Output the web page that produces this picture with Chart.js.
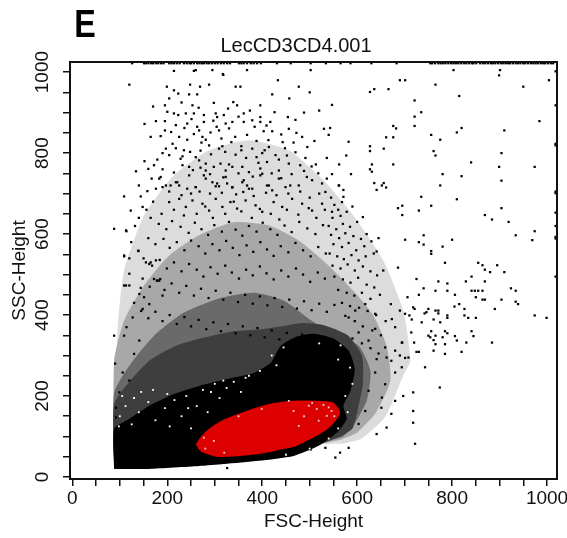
<!DOCTYPE html>
<html><head><meta charset="utf-8">
<script src="https://cdn.jsdelivr.net/npm/chart.js@4.4.1/dist/chart.umd.min.js"></script>
<style>html,body{margin:0;padding:0;background:#fff;}#wrap{width:567px;height:538px;}</style>
</head><body><div id="wrap"><canvas id="c" width="567" height="538"></canvas></div>
<script>
// ---------- text ----------
const panelLetter = 'E';
const plotTitle = 'LecCD3CD4.001';
const xTitle = 'FSC-Height';
const yTitle = 'SSC-Height';
const xTickLabels = [0, 200, 400, 600, 800, 1000];
const yTickLabels = [0, 200, 400, 600, 800, 1000];

// ---------- density regions (FSC, SSC) ----------
const lightRegion = [[88,30],[88,30],[95,361],[109,510],[151,646],[214,745],[288,807],[372,832],[456,807],[529,733],[592,646],[655,535],[697,411],[712,287],[697,250],[660,150],[610,95],[570,82],[570,82],[519,80],[466,55],[393,42],[88,30]];
const moderateRegion = [[88,30],[88,30],[88,287],[109,386],[151,473],[204,547],[267,597],[340,629],[414,621],[477,584],[540,522],[592,460],[634,399],[662,324],[670,238],[640,160],[600,110],[565,92],[565,92],[519,80],[466,55],[393,42],[88,30]];
const heavyRegion = [[88,30],[88,30],[88,208],[120,275],[172,349],[235,406],[309,441],[382,455],[445,436],[498,391],[540,361],[603,324],[628,262],[620,188],[592,126],[571,100],[571,100],[519,80],[466,55],[393,42],[88,30]];
const denseRegion = [[88,30],[88,30],[88,180],[120,235],[165,290],[220,325],[280,345],[340,360],[400,365],[440,372],[480,380],[530,375],[580,350],[610,300],[612,230],[600,160],[590,120],[565,100],[565,100],[519,80],[466,55],[393,42],[88,30]];
const coreRegion = [[88,20],[88,20],[88,119],[120,144],[162,176],[214,205],[267,225],[330,243],[382,257],[418,282],[439,324],[473,347],[508,354],[550,342],[582,312],[595,267],[586,213],[571,176],[578,144],[557,109],[519,77],[466,52],[393,40],[319,32],[267,27],[162,20],[88,20]];

// ---------- gate (lymphocyte ellipse) ----------
const gateOutline = [[258,81],[267,64],[281,55],[302,48],[330,48],[365,51],[400,56],[442,66],[470,73],[491,85],[519,102],[540,118],[557,139],[566,157],[561,173],[550,186],[526,190],[491,191],[456,190],[421,184],[386,173],[351,159],[316,143],[288,122],[270,102],[258,81]];
const gateSpeckles = [[498,176],[515,168],[529,178],[546,163],[536,151],[456,188],[466,163],[399,168],[298,89],[277,97],[519,139],[477,126],[505,183],[540,172],[552,150],[488,150],[350,150],[280,70],[320,60]];

// ---------- light gaps inside the dense band ----------
const coreVoids = [[100,150],[112,175],[125,130],[140,160],[160,185],[175,140],[195,170],[205,125],[215,190],[230,150],[240,200],[250,120],[262,175],[275,215],[285,160],[300,230],[310,195],[325,220],[340,235],[355,210],[365,245],[130,195],[145,210],[170,215],[105,200],[200,205],[420,300],[445,320],[520,330],[560,290],[575,200],[590,230],[560,120],[540,95],[500,70],[450,55],[98,125],[244,170],[292,210],[318,238],[372,250],[395,262],[430,276],[565,325],[585,270],[580,160]];

// ---------- individual events ----------
const SSC_SATURATED = 1022;
const FSC_SATURATED = 1018;
const topEdgeFSC = [126,151,155,160,166,170,176,181,187,192,204,209,214,220,226,235,241,247,250,256,263,268,273,277,283,288,294,300,306,313,319,326,332,351,356,361,368,376,382,389,397,431,460,502,534,565,586,630,683,754,758,764,771,776,781,786,792,798,803,808,813,819,825,830,836,842,845,851,859,865,870,876,882,886,891,897,903,908,913,918,922,928,934,939,944,950,954,960,966,971,976,981,987,992,996,1002,1008,1013];
const rightEdgeSSC = [1002,918,819,823,701,705,653,620,589,593,495];

const upperRightEvents = [[899,992],[950,964],[1004,980],[690,980],[701,980],[627,951],[636,958],[666,958],[765,969],[815,941],[721,930],[735,901],[721,890],[721,867],[547,919],[543,862],[676,867],[682,861],[661,839],[676,839],[756,845],[775,833],[810,851],[820,862],[910,856],[984,879],[582,828],[627,817],[627,805],[656,811],[761,805],[765,794],[840,777],[904,800],[577,794],[631,772],[627,760],[631,754],[676,772],[562,772],[899,766],[974,766],[904,732],[780,748],[820,743],[775,720],[547,748],[587,748],[636,726],[652,720],[656,726],[661,715],[641,709],[562,720],[571,709],[571,692],[735,692],[810,686],[904,664],[869,647],[884,636],[919,630],[974,607],[934,597],[969,585],[686,664],[695,670],[695,647],[730,658],[756,670],[740,597],[730,580],[740,574],[701,586],[780,569],[800,586],[756,558],[756,551],[641,557],[785,529],[686,517],[855,529],[864,523],[869,512],[880,506],[910,506],[895,523],[841,495],[829,483],[841,460],[848,460],[855,460],[864,460],[869,483],[725,489],[771,483],[765,460],[790,460],[790,478],[740,466],[730,450],[706,444],[671,427],[806,450],[850,444],[864,438],[869,438],[904,438],[924,466],[934,460],[934,433],[939,427],[890,415],[974,399],[999,393],[826,415],[815,427],[805,421],[850,393],[834,393],[826,399],[750,415],[742,404],[765,411],[771,411],[771,404],[790,399],[790,393],[761,389],[775,382],[710,399],[715,389],[721,415],[690,411],[736,382],[680,370],[756,360],[750,349],[765,349],[761,338],[765,328],[785,360],[790,355],[780,345],[785,328],[806,348],[810,337],[841,360],[845,348],[884,332],[830,332],[820,309],[785,304],[725,309],[730,309],[695,332],[720,332],[690,300],[701,294]];

const midRightEvents = [[545,690],[552,672],[560,660],[548,640],[565,645],[578,655],[590,668],[540,620],[556,612],[570,625],[585,618],[600,630],[612,642],[545,598],[562,590],[575,602],[592,595],[608,588],[620,600],[550,575],[568,568],[582,578],[598,560],[615,570],[630,582],[645,590],[542,552],[558,545],[572,538],[588,548],[603,535],[618,545],[635,552],[548,522],[565,515],[580,525],[595,510],[612,520],[628,508],[642,498],[655,510],[552,495],[570,488],[586,480],[602,492],[620,475],[636,468],[560,462],[578,455],[594,448],[610,455],[628,440],[648,450],[568,430],[585,422],[604,418],[622,410],[640,400],[660,385],[575,398],[595,385],[612,372],[632,362],[650,350],[590,342],[610,330],[628,318],[645,305],[662,295],[722,82],[718,134],[662,122],[641,106],[603,131],[617,163],[651,171],[672,156],[680,188],[697,200],[582,72],[564,60],[554,48],[533,72],[502,68],[483,82],[694,332],[714,357],[754,345],[761,312],[743,271],[774,221],[718,209],[718,163],[672,287],[659,229],[680,258],[638,258],[624,213],[652,196],[641,291],[659,320],[680,312],[694,271],[708,295],[701,403],[718,419],[746,407],[673,390],[638,403],[617,427],[596,411],[582,394],[638,366],[624,337],[603,357],[326,22]];

const upperLeftEvents = [[214,1003],[256,1003],[295,1005],[318,993],[433,980],[477,964],[120,969],[199,964],[248,969],[269,964],[288,969],[344,964],[354,964],[214,955],[223,947],[246,945],[263,945],[204,935],[421,945],[457,935],[195,918],[253,918],[298,924],[339,926],[347,918],[396,918],[214,898],[223,894],[200,902],[239,898],[256,898],[277,894],[302,898],[305,889],[319,894],[328,910],[361,898],[396,889],[379,881],[454,889],[176,879],[195,879],[218,869],[242,873],[263,865],[267,856],[277,877],[304,865],[309,856],[323,873],[337,877],[361,877],[384,865],[396,877],[403,854],[417,877],[421,854],[456,860],[165,840],[195,856],[225,840],[242,833],[256,847],[274,840],[281,833],[288,819],[309,811],[316,817],[335,827],[356,817],[356,807],[379,811],[400,800],[405,807],[414,815],[428,795],[435,784],[443,827],[197,811],[211,823],[235,807],[179,784],[204,795],[228,786],[246,766],[260,790],[267,782],[281,774],[281,757],[277,745],[298,766],[312,774],[323,757],[337,766],[358,766],[372,753],[396,762],[400,749],[435,757],[456,774],[491,788],[504,767],[513,772],[536,788],[134,755],[160,761],[167,737],[186,741],[197,720],[218,728],[225,720],[242,712],[260,716],[295,728],[302,718],[309,718],[326,725],[337,715],[358,728],[368,720],[379,712],[410,720],[421,708],[449,716],[477,720],[505,733],[526,725],[109,693],[144,693],[123,658],[148,667],[88,613],[113,609],[109,547],[139,559],[120,502],[113,473],[120,473],[155,530],[165,530],[179,485],[185,489],[141,452],[500,950],[520,905],[530,860],[488,900],[472,850],[510,830],[540,845],[495,815],[260,1005],[368,1005],[502,1005],[803,1005],[901,1005],[317,995],
[152,872],[170,915],[186,842],[208,852],[230,925],[236,862],[251,884],[266,912],[272,826],[291,851],[297,880],[314,836],[330,861],[343,840],[350,890],[368,845],[374,905],[388,830],[409,868],[413,832],[426,901],[440,846],[448,812],[466,826],[470,882],[484,840],[190,800],[218,812],[232,792],[248,803],[270,806],[292,797],[322,803],[344,796],[366,788],[388,790],[410,778],[452,794],[470,802],[480,770],[152,780],[172,770],[190,760],[214,752],[232,770],[254,758],[270,764],[290,748],[318,740],[330,772],[350,750],[380,742],[392,776],[420,750],[440,738],[462,748],[488,756],[518,750],[140,720],[158,706],[176,712],[204,705],[230,696],[250,700],[268,705],[290,700],[315,702],[345,698],[360,704],[382,694],[408,702],[430,696],[455,700],[480,705],[500,690],[520,700],[140,640],[156,660],[170,680],[188,650],[214,660],[235,646],[262,650],[280,668],[296,640],[322,650],[340,680],[356,656],[378,640],[395,662],[418,650],[436,636],[452,660],[476,648],[498,664],[514,640],[532,660],[124,580],[132,620],[120,540]];

const midEvents = [[114,607],[139,558],[109,545],[109,473],[144,467],[127,394],[114,370],[162,526],[176,535],[172,489],[183,485],[151,444],[162,427],[190,448],[148,415],[183,737],[190,716],[207,720],[221,728],[246,745],[260,716],[281,737],[305,725],[323,741],[337,716],[361,733],[372,712],[396,745],[414,720],[435,737],[459,720],[494,741],[536,737],[561,720],[533,704],[204,679],[225,687],[239,667],[253,683],[274,675],[288,658],[302,687],[316,667],[333,679],[347,663],[365,683],[386,671],[400,655],[424,679],[442,667],[463,687],[484,675],[505,658],[526,675],[547,655],[568,679],[165,640],[182,625],[198,612],[210,632],[228,618],[245,603],[258,628],[272,612],[286,598],[299,622],[315,606],[330,630],[344,611],[358,596],[372,620],[388,606],[401,628],[417,612],[432,598],[447,621],[462,605],[478,630],[495,614],[512,600],[528,622],[160,590],[175,575],[192,588],[205,566],[220,580],[236,560],[250,584],[266,570],[280,552],[295,575],[310,560],[324,583],[338,566],[352,548],[367,572],[381,556],[396,580],[410,562],[424,546],[439,570],[455,555],[470,578],[486,560],[502,545],[518,568],[534,552],[150,540],[168,522],[184,536],[199,515],[214,530],[230,508],[246,526],[262,512],[276,495],[291,518],[306,502],[322,522],[336,505],[351,490],[366,512],[380,498],[395,520],[409,503],[424,488],[440,510],[455,495],[471,515],[486,500],[501,482],[517,505],[532,490],[148,490],[163,470],[178,485],[194,462],[209,478],[225,455],[240,472],[256,448],[271,465],[287,442],[302,460],[318,438],[333,455],[349,432],[364,450],[380,428],[395,446],[411,424],[426,442],[442,420],[457,438],[473,416],[488,434],[504,412],[520,428],[536,408],[552,425],[130,430],[145,410],[160,392],[175,408],[190,385],[205,400],[220,378],[236,395],[250,372],[266,388],[282,365],[297,382],[313,360],[328,378],[344,355],[359,372],[375,350],[390,368],[405,345],[420,362],[436,340],[452,356],[468,335],[484,352],[500,330],[106,258],[99,209],[92,171],[92,147],[130,304],[120,238],[141,337],[88,349],[109,349],[90,280]];

// ---------- build ----------
const toXY = a => a.map(p => ({x: p[0], y: p[1]}));
const topEdgeEvents = topEdgeFSC.map(x => [x, SSC_SATURATED]);
const rightEdgeEvents = rightEdgeSSC.map(y => [FSC_SATURATED, y]);
const dotEvents = [].concat(upperRightEvents, midRightEvents, upperLeftEvents, midEvents, topEdgeEvents, rightEdgeEvents);

function region(data, color, order, tension) {
  return {type: 'line', data: toXY(data), order, fill: 'shape', backgroundColor: color,
    borderWidth: 0, borderColor: 'rgba(0,0,0,0)', pointRadius: 0, tension: tension};
}
function dots(data, color, order, r) {
  return {type: 'scatter', data: toXY(data), order, pointStyle: 'rect', pointRadius: r || 1.6,
    pointHoverRadius: 0, pointBorderWidth: 0, backgroundColor: color, pointBackgroundColor: color};
}

const labelsPlugin = {
  id: 'labels',
  afterDraw(chart) {
    const ctx = chart.ctx, xs = chart.scales.x, ys = chart.scales.y, a = chart.chartArea;
    ctx.save();
    ctx.strokeStyle = '#111'; ctx.lineWidth = 2;
    ctx.strokeRect(a.left, a.top, a.right - a.left, a.bottom - a.top);
    ctx.fillStyle = '#111';
    ctx.textAlign = 'center'; ctx.textBaseline = 'middle';
    ctx.font = '19px "Liberation Sans", Arial, sans-serif';
    xTickLabels.forEach(v => ctx.fillText(String(v), xs.getPixelForValue(v), 499));
    yTickLabels.forEach(v => {
      ctx.save(); ctx.translate(43, ys.getPixelForValue(v)); ctx.rotate(-Math.PI / 2);
      ctx.fillText(String(v), 0, 0); ctx.restore();
    });
    ctx.fillText(xTitle, (a.left + a.right) / 2, 522);
    ctx.save(); ctx.translate(20, (a.top + a.bottom) / 2); ctx.rotate(-Math.PI / 2);
    ctx.fillText(yTitle, 0, 0); ctx.restore();
    ctx.font = '20px "Liberation Sans", Arial, sans-serif';
    ctx.fillText(plotTitle, 296, 46);
    ctx.fillStyle = '#000';
    ctx.font = 'bold 38px "Liberation Sans", Arial, sans-serif';
    ctx.save(); ctx.translate(85, 27); ctx.scale(0.85, 1); ctx.fillText(panelLetter, 0, 0); ctx.restore();
    ctx.restore();
  }
};

new Chart(document.getElementById('c'), {
  type: 'scatter',
  data: {datasets: [
    dots(gateSpeckles, '#f4c8c8', 1, 1.3),
    {type: 'line', data: toXY(gateOutline), order: 2, fill: 'shape', backgroundColor: '#dc0000',
      borderColor: '#000', borderWidth: 1.8, pointRadius: 0, tension: 0.35},
    dots(coreVoids, '#ffffff', 3, 1.3),
    region(coreRegion, '#000000', 4, 0.2),
    dots(dotEvents, '#000000', 5),
    region(denseRegion, '#3e3e3e', 6, 0.2),
    region(heavyRegion, '#6a6a6a', 7, 0.2),
    region(moderateRegion, '#a8a8a8', 8, 0.2),
    region(lightRegion, '#dcdcdc', 9, 0.2)
  ]},
  options: {
    responsive: false, animation: false, devicePixelRatio: 1, events: [],
    layout: {padding: {top: 62, right: 10, left: 0, bottom: 0}},
    plugins: {legend: {display: false}, tooltip: {enabled: false}, title: {display: false}},
    scales: {
      x: {type: 'linear', min: -5, max: 1021,
        ticks: {display: false, stepSize: 50, includeBounds: false},
        grid: {display: true, drawOnChartArea: false, drawTicks: true, tickLength: 7, color: '#111', lineWidth: 1.5},
        border: {display: false},
        afterFit(s) { s.height = 59; }},
      y: {type: 'linear', min: -5, max: 1025,
        ticks: {display: false, stepSize: 50, includeBounds: false},
        grid: {display: true, drawOnChartArea: false, drawTicks: true, tickLength: 7, color: '#111', lineWidth: 1.5},
        border: {display: false},
        afterFit(s) { s.width = 70; }}
    }
  },
  plugins: [labelsPlugin]
});
</script></body></html>
